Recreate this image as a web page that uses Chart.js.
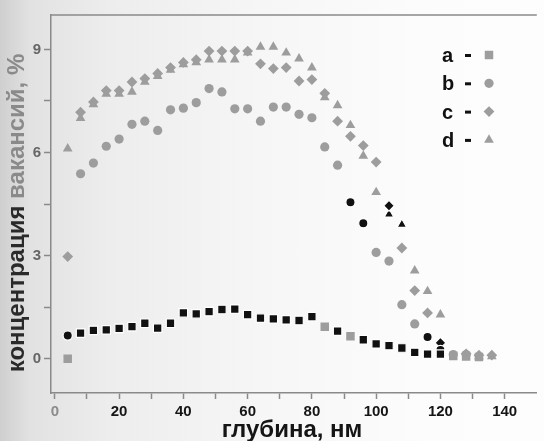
<!DOCTYPE html>
<html>
<head>
<meta charset="utf-8">
<script src="https://cdn.jsdelivr.net/npm/chart.js@4.4.1/dist/chart.umd.min.js"></script>
<style>
  html, body { margin: 0; padding: 0; }
  body {
    width: 544px; height: 441px; overflow: hidden;
    background: linear-gradient(to right, #cfcfcf 0px, #e2e2e2 30px, #ededed 110px, #f6f6f6 260px, #fcfcfc 420px, #fdfdfd 100%);
  }
  canvas { display: block; }
</style>
</head>
<body>
<canvas id="chart" width="544" height="441"></canvas>
<script>
// глубина (нм) и концентрация вакансий (%) для образцов a-d
var depthA = [4, 8, 12, 16, 20, 24, 28, 32, 36, 40, 44, 48, 52, 56, 60, 64, 68, 72, 76, 80,
              84, 88, 92, 96, 100, 104, 108, 112, 116, 120, 124, 128, 132];
var concA  = [0.0, 0.74, 0.82, 0.84, 0.88, 0.93, 1.03, 0.89, 1.03, 1.33, 1.30, 1.37, 1.43, 1.44, 1.28, 1.18, 1.16, 1.13, 1.11, 1.22,
              0.93, 0.80, 0.65, 0.55, 0.43, 0.38, 0.31, 0.18, 0.13, 0.13, 0.08, 0.06, 0.05];

var depthB = [4, 8, 12, 16, 20, 24, 28, 32, 36, 40, 44, 48, 52, 56, 60, 64, 68, 72, 76, 80,
              84, 88, 92, 96, 100, 104, 108, 112, 116, 120, 124, 128];
var concB  = [0.67, 5.38, 5.69, 6.18, 6.39, 6.82, 6.91, 6.64, 7.24, 7.29, 7.45, 7.86, 7.76, 7.27, 7.27, 6.91, 7.32, 7.32, 7.11, 7.01,
              6.16, 5.63, 4.55, 3.94, 3.09, 2.84, 1.57, 1.01, 0.63, 0.25, 0.12, 0.12];

var depthC = [4, 8, 12, 16, 20, 24, 28, 32, 36, 40, 44, 48, 52, 56, 60, 64, 68, 72, 76, 80,
              84, 88, 92, 96, 100, 104, 108, 112, 116, 120, 128, 132, 136];
var concC  = [2.97, 7.17, 7.47, 7.8, 7.8, 8.05, 8.15, 8.3, 8.47, 8.62, 8.7, 8.95, 8.95, 8.95, 8.95, 8.58, 8.44, 8.47, 8.08, 8.12,
              7.72, 6.91, 6.47, 6.2, 5.72, 4.45, 3.22, 1.98, 1.33, 0.46, 0.14, 0.1, 0.1];

var depthD = [4, 8, 12, 16, 20, 24, 28, 32, 36, 40, 44, 48, 52, 56, 60, 64, 68, 72, 76, 80,
              84, 88, 92, 96, 100, 104, 108, 112, 116, 120, 132, 136];
var concD  = [6.11, 7.0, 7.4, 7.7, 7.7, 7.76, 8.05, 8.22, 8.4, 8.56, 8.62, 8.7, 8.7, 8.7, 8.9, 9.07, 9.07, 8.9, 8.73, 8.47,
              7.6, 7.37, 6.79, 5.9, 4.84, 4.2, 3.9, 2.56, 1.96, 1.28, 0.06, 0.06];

// точки, пропечатанные тёмным на скане
var darkA = [8, 12, 16, 20, 24, 28, 32, 36, 40, 44, 48, 52, 56, 60, 64, 68, 72, 76, 80, 88, 96, 100, 104, 108, 112, 116, 120];
var darkB = [4, 92, 96, 116, 120];
var darkC = [104, 120];
var darkD = [104, 108];

var xTicks = [0, 10, 20, 30, 40, 50, 60, 70, 80, 90, 100, 110, 120, 130, 140];
var yTicks = [0, 1.5, 3, 4.5, 6, 7.5, 9];
var seriesNames = ['a', 'b', 'c', 'd'];

var GRAY = '#9d9d9d';
var DARK = '#111111';
var FONT = '"Liberation Sans", Arial, sans-serif';

function points(depth, conc, dark) {
	return depth.map(function(x, i) {
		return { x: x, y: conc[i], dark: dark.indexOf(x) >= 0 };
	});
}

function isDark(c) { return c.raw && c.raw.dark; }

var styles = [
	{ pointStyle: 'rect', pointRadius: 6 },
	{ pointStyle: 'circle', pointRadius: 4.6 },
	{ pointStyle: 'rectRot', pointRadius: 5.4 },
	{ pointStyle: 'triangle', pointRadius: 5.6 }
];

var series = [
	points(depthA, concA, darkA),
	points(depthB, concB, darkB),
	points(depthC, concC, darkC),
	points(depthD, concD, darkD)
];

var datasets = series.map(function(data, i) {
	return {
		label: seriesNames[i],
		data: data,
		pointStyle: styles[i].pointStyle,
		pointRadius: styles[i].pointRadius,
		pointHoverRadius: styles[i].pointRadius,
		pointBackgroundColor: function(c) { return isDark(c) ? DARK : GRAY; },
		pointBorderColor: function(c) { return isDark(c) ? '#ffffff' : GRAY; },
		pointBorderWidth: function(c) { return isDark(c) ? 1.2 : 0; },
		showLine: false
	};
});

// легенда вида "a - ■" и подписи осей
var decor = {
	id: 'decor',
	afterDraw: function(chart) {
		var ctx = chart.ctx;
		var area = chart.chartArea;
		ctx.save();

		// верхняя рамка
		ctx.strokeStyle = '#8a8a8a';
		ctx.lineWidth = 1.5;
		ctx.beginPath();
		ctx.moveTo(area.left, area.top);
		ctx.lineTo(area.right, area.top);
		ctx.stroke();

		// легенда
		ctx.font = 'bold 20px ' + FONT;
		ctx.textBaseline = 'alphabetic';
		ctx.textAlign = 'left';
		for (var i = 0; i < seriesNames.length; i++) {
			var base = 62 + i * 28.3;
			ctx.fillStyle = '#111';
			ctx.fillText(seriesNames[i], 442, base);
			ctx.fillRect(465, base - 8, 6, 3);
			ctx.fillStyle = GRAY;
			Chart.helpers.drawPoint(ctx, {
				pointStyle: styles[i].pointStyle,
				radius: styles[i].pointRadius,
				rotation: 0,
				borderWidth: 0
			}, 489, base - 7);
		}

		// подпись оси X
		ctx.font = 'bold 24px ' + FONT;
		ctx.textAlign = 'center';
		ctx.textBaseline = 'middle';
		ctx.fillStyle = '#151515';
		ctx.fillText('глубина, нм', 292, 430);

		// подпись оси Y
		ctx.translate(17, 213);
		ctx.rotate(-Math.PI / 2);
		var p1 = 'концентрация ', p2 = 'вакансий, %';
		var w1 = ctx.measureText(p1).width, w2 = ctx.measureText(p2).width;
		var start = -(w1 + w2) / 2;
		ctx.textAlign = 'left';
		ctx.fillStyle = '#2a2a2a';
		ctx.fillText(p1, start, 0);
		ctx.fillStyle = '#8a8a8a';
		ctx.fillText(p2, start + w1, 0);

		ctx.restore();
	}
};

var ctx = document.getElementById('chart').getContext('2d');

var chart = new Chart(ctx, {
	type: 'scatter',
	data: { datasets: datasets },
	options: {
		responsive: false,
		animation: false,
		layout: { padding: { top: 15, right: 0, bottom: 0, left: 0 } },
		plugins: {
			legend: { display: false },
			tooltip: { enabled: false }
		},
		scales: {
			x: {
				type: 'linear',
				min: -1.2,
				max: 150,
				afterFit: function(s) { s.height = 48; },
				afterBuildTicks: function(s) {
					s.ticks = xTicks.map(function(v) { return { value: v }; });
				},
				border: { color: '#8a8a8a', width: 1.5 },
				grid: { drawOnChartArea: false, tickLength: 6, tickColor: '#8a8a8a', tickWidth: 1.5 },
				ticks: {
					padding: 4,
					color: function(c) { return c.tick && c.tick.value === 0 ? '#8c8c8c' : '#151515'; },
					font: { family: FONT, size: 15, weight: 'bold' },
					callback: function(v) { return v % 20 === 0 ? String(v) : ''; }
				}
			},
			y: {
				type: 'linear',
				min: -1,
				max: 10,
				afterFit: function(s) { s.width = 51; },
				afterBuildTicks: function(s) {
					s.ticks = yTicks.map(function(v) { return { value: v }; });
				},
				border: { color: '#8a8a8a', width: 1.5 },
				grid: { drawOnChartArea: false, tickLength: 7, tickColor: '#8a8a8a', tickWidth: 1.5 },
				ticks: {
					padding: 3,
					color: '#666666',
					font: { family: FONT, size: 15, weight: 'bold' },
					callback: function(v) { return v % 3 === 0 ? String(v) : ''; }
				}
			}
		}
	},
	plugins: [decor]
});
</script>
</body>
</html>
